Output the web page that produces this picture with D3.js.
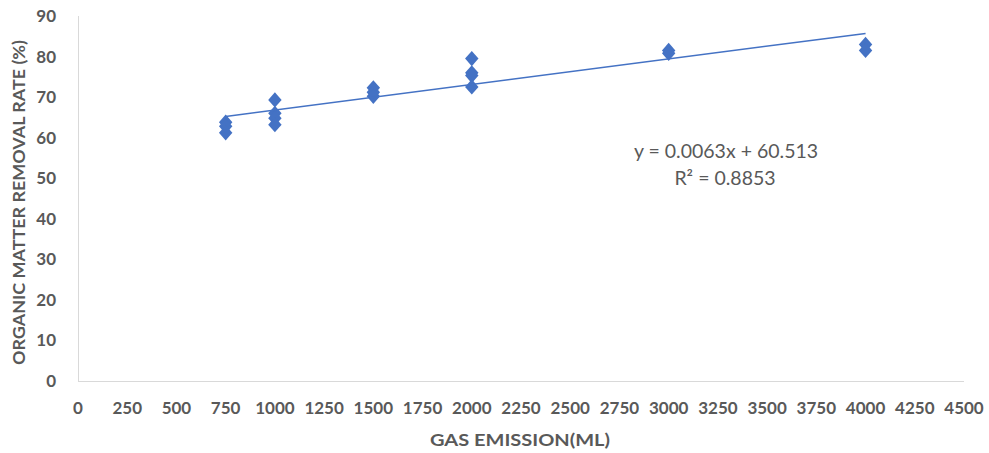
<!DOCTYPE html>
<html><head><meta charset="utf-8">
<script src="https://cdn.jsdelivr.net/npm/d3@7"></script>
<style>body{margin:0;background:#fff}svg{display:block}</style>
</head><body><svg id="c" width="989" height="453"></svg>
<script>
const gasEmission = [750,750,750,1000,1000,1000,1000,1500,1500,1500,2000,2000,2000,2000,3000,3000,4000,4000];
const removalRate = [63.8,62.8,61.2,69.3,66.0,64.8,63.2,72.3,71.2,70.2,79.5,76.0,75.3,72.5,81.5,80.8,83.0,81.5];
const xTicks = [0,250,500,750,1000,1250,1500,1750,2000,2250,2500,2750,3000,3250,3500,3750,4000,4250,4500];
const yTicks = [0,10,20,30,40,50,60,70,80,90];
const trendSlope = 0.0063, trendIntercept = 60.513, rSquared = 0.8853;
const xTitle = "GAS EMISSION(ML)", yTitle = "ORGANIC MATTER REMOVAL RATE (%)";

const svg = d3.select("#c");
const x = d3.scaleLinear().domain([0,4500]).range([78,964]);
const y = d3.scaleLinear().domain([0,90]).range([381,16]);
const font = "Lato, 'Open Sans', sans-serif";
const grey = "#595959", blue = "#4472C4";

// axes lines
svg.append("line").attr("x1",x(0)).attr("x2",x(4500)).attr("y1",y(0)+0.5).attr("y2",y(0)+0.5).attr("stroke","#d9d9d9");
svg.append("line").attr("x1",x(0)+0.5).attr("x2",x(0)+0.5).attr("y1",y(0)).attr("y2",y(90)).attr("stroke","#d9d9d9");

svg.append("g").selectAll("text").data(xTicks).join("text")
  .attr("x",d=>x(d)).attr("y",414).attr("text-anchor","middle")
  .attr("font-family",font).attr("font-size",17).attr("font-weight","bold").attr("fill",grey).text(d=>d);
svg.append("g").selectAll("text").data(yTicks).join("text")
  .attr("x",56).attr("y",d=>y(d)+6).attr("text-anchor","end")
  .attr("font-family",font).attr("font-size",17).attr("font-weight","bold").attr("fill",grey).text(d=>d);

svg.append("text").attr("x",520).attr("y",446).attr("text-anchor","middle")
  .attr("font-family",font).attr("font-size",17).attr("font-weight","bold").attr("fill",grey)
  .attr("textLength",180).attr("lengthAdjust","spacingAndGlyphs").text(xTitle);
svg.append("text").attr("transform",`translate(25,${y(45)+4}) rotate(-90)`).attr("text-anchor","middle")
  .attr("font-family",font).attr("font-size",17).attr("font-weight","bold").attr("fill",grey)
  .attr("textLength",325).attr("lengthAdjust","spacingAndGlyphs").text(yTitle);

// points
const diamond = d3.symbol().type(d3.symbolSquare).size(100);
svg.append("g").selectAll("path").data(gasEmission.map((g,i)=>[g,removalRate[i]])).join("path")
  .attr("d",diamond).attr("transform",d=>`translate(${x(d[0])},${y(d[1])}) scale(0.95,1.08) rotate(45)`).attr("fill",blue);

// trendline
const xmin = d3.min(gasEmission), xmax = d3.max(gasEmission);
svg.append("line").attr("x1",x(xmin)).attr("y1",y(trendSlope*xmin+trendIntercept))
  .attr("x2",x(xmax)).attr("y2",y(trendSlope*xmax+trendIntercept))
  .attr("stroke",blue).attr("stroke-width",1.5);

svg.append("text").attr("x",726).attr("y",158).attr("text-anchor","middle")
  .attr("font-family",font).attr("font-size",19.5).attr("fill",grey)
  .text(`y = ${trendSlope}x + ${trendIntercept}`);
svg.append("text").attr("x",725).attr("y",185).attr("text-anchor","middle")
  .attr("font-family",font).attr("font-size",19.5).attr("fill",grey)
  .text(`R² = ${rSquared}`);
</script></body></html>
